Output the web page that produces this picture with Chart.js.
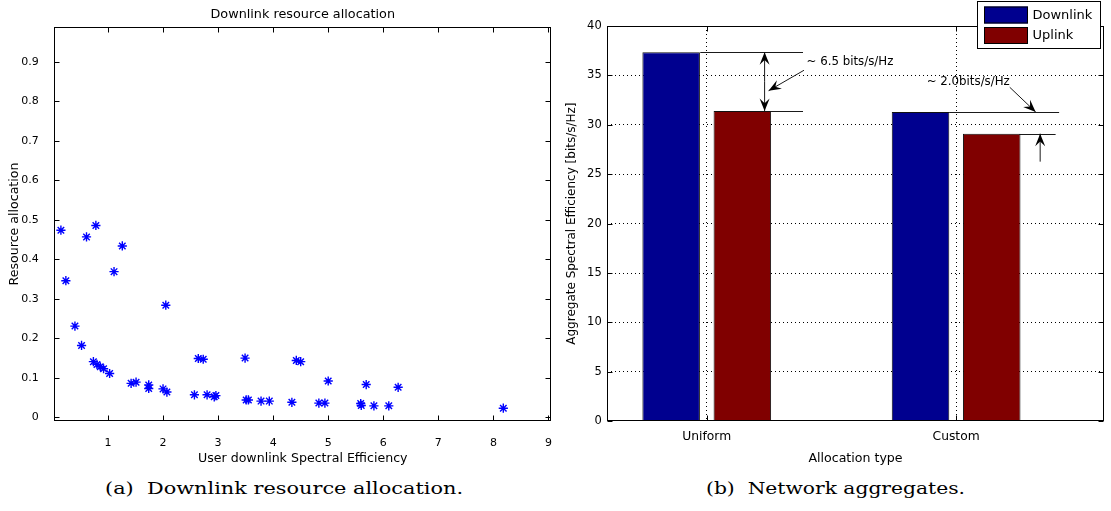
<!DOCTYPE html>
<html>
<head>
<meta charset="utf-8">
<script src="https://cdn.jsdelivr.net/npm/chart.js@4/dist/chart.umd.min.js"></script>
<style>
  body { margin: 0; background: #fff; width: 1111px; height: 511px; position: relative; overflow: hidden; }
  #leftChart { position: absolute; left: 0; top: 0; }
  #rightChart { position: absolute; left: 560px; top: 0; }
  .caption { position: absolute; top: 478px; font-family: "DejaVu Serif", serif; font-size: 17px; white-space: pre;
             color: #000; transform-origin: 0 50%; }
</style>
</head>
<body>
<canvas id="leftChart" width="560" height="470"></canvas>
<canvas id="rightChart" width="551" height="470"></canvas>
<div class="caption" id="capA" data-w="358" style="left:105px">(a)  Downlink resource allocation.</div>
<div class="caption" id="capB" data-w="259" style="left:706px">(b)  Network aggregates.</div>
<script>
// ---- data: downlink resource allocation (scatter) ----
const spectralEff = [0.145, 0.235, 0.40, 0.52, 0.61, 0.78, 0.735, 0.80, 0.86, 0.92, 1.03, 1.11, 1.26,
  1.42, 1.51, 1.74, 1.74, 2.00, 2.07, 2.05, 2.57, 2.64, 2.73, 2.80, 2.93, 2.96, 3.49, 3.51, 3.55,
  3.78, 3.93, 4.34, 4.42, 4.50, 4.83, 4.94, 5.00, 5.59, 5.60, 5.69, 5.83, 6.10, 6.27, 8.18];
const resourceAlloc = [0.474, 0.346, 0.231, 0.182, 0.457, 0.486, 0.141, 0.134, 0.128, 0.123, 0.111, 0.369, 0.434,
  0.086, 0.089, 0.082, 0.073, 0.072, 0.064, 0.284, 0.057, 0.149, 0.147, 0.057, 0.052, 0.055, 0.150, 0.044, 0.044,
  0.041, 0.041, 0.038, 0.144, 0.141, 0.036, 0.036, 0.092, 0.035, 0.030, 0.083, 0.029, 0.029, 0.076, 0.023];
const seTicks = [1, 2, 3, 4, 5, 6, 7, 8, 9];
const allocTicks = [0, 0.1, 0.2, 0.3, 0.4, 0.5, 0.6, 0.7, 0.8, 0.9];

// ---- data: network aggregates (bars) ----
const allocTypes = ['Uniform', 'Custom'];
const downlinkAgg = [37.35, 31.3];
const uplinkAgg = [31.4, 29.1];
const aggTicks = [0, 5, 10, 15, 20, 25, 30, 35, 40];

Chart.defaults.font.family = '"DejaVu Sans", sans-serif';
Chart.defaults.font.size = 11;
Chart.defaults.color = '#000';
Chart.defaults.animation = false;

const setTicks = (vals) => (scale) => { scale.ticks = vals.map(v => ({ value: v })); };

// box round the plot plus matlab style inward ticks
const framePlugin = {
  id: 'frame',
  afterDraw(chart) {
    const { ctx, chartArea: a, scales } = chart;
    const L = Math.round(a.left) + 0.5, R = Math.round(a.right) - 0.5;
    const T = Math.round(a.top) + 0.5, B = Math.round(a.bottom) - 0.5;
    ctx.save();
    ctx.strokeStyle = '#000';
    ctx.lineWidth = 1;
    ctx.strokeRect(L, T, R - L, B - T);
    ctx.beginPath();
    for (const t of scales.x.ticks) {
      const px = Math.round(scales.x.getPixelForValue(t.value)) + 0.5;
      ctx.moveTo(px, B); ctx.lineTo(px, B - 5);
      ctx.moveTo(px, T); ctx.lineTo(px, T + 5);
    }
    for (const t of scales.y.ticks) {
      const py = Math.round(scales.y.getPixelForValue(t.value)) + 0.5;
      ctx.moveTo(L, py); ctx.lineTo(L + 5, py);
      ctx.moveTo(R, py); ctx.lineTo(R - 5, py);
    }
    ctx.stroke();
    ctx.restore();
  }
};

new Chart(document.getElementById('leftChart'), {
  type: 'scatter',
  data: {
    datasets: [{
      label: 'Resource allocation',
      data: spectralEff.map((x, i) => ({ x: x, y: resourceAlloc[i] })),
      pointStyle: 'star',
      pointRadius: 4.6,
      borderColor: '#0000ff',
      backgroundColor: '#0000ff',
      borderWidth: 1.4
    }]
  },
  options: {
    responsive: false,
    layout: { padding: { right: 6 } },
    plugins: {
      legend: { display: false },
      tooltip: { enabled: false },
      title: {
        display: true,
        text: 'Downlink resource allocation',
        fullSize: false,
        font: { weight: 'normal', size: 12.8 },
        color: '#000',
        padding: { top: 6.7, bottom: 5.2 }
      }
    },
    scales: {
      x: {
        type: 'linear', min: 0.025, max: 9.05,
        afterBuildTicks: setTicks(seTicks),
        afterFit: (s) => { s.height = 49.3; },
        grid: { display: false },
        border: { display: false },
        ticks: { padding: 8, maxRotation: 0 },
        title: { display: true, text: 'User downlink Spectral Efficiency', font: { size: 12.6 }, padding: { top: 5 } }
      },
      y: {
        type: 'linear', min: -0.0086, max: 0.988,
        afterBuildTicks: setTicks(allocTicks),
        afterFit: (s) => { s.width = 54.3; },
        grid: { display: false },
        border: { display: false },
        ticks: { padding: 7.5, callback: (v) => String(Number(v.toFixed(1))) },
        title: { display: true, text: 'Resource allocation', font: { size: 12.6 }, padding: { top: 7.5 } }
      }
    }
  },
  plugins: [framePlugin]
});

// gap annotations, in data units
const annotLines = [
  [0.974, downlinkAgg[0], 1.386, downlinkAgg[0]],
  [1.255, uplinkAgg[0], 1.386, uplinkAgg[0]],
  [1.972, downlinkAgg[1], 2.413, downlinkAgg[1]],
  [2.253, uplinkAgg[1], 2.399, uplinkAgg[1]]
];
const annotArrows = [
  { from: [1.232, 34.4], to: [1.232, downlinkAgg[0]] },
  { from: [1.232, 34.4], to: [1.232, uplinkAgg[0]] },
  { from: [1.39, 35.52], to: [1.248, 33.45] },
  { from: [2.215, 33.8], to: [2.319, downlinkAgg[1]] },
  { from: [2.337, 26.27], to: [2.337, uplinkAgg[1]] }
];
const annotTexts = [
  { x: 1.40, y: 36.36, text: '~ 6.5 bits/s/Hz' },
  { x: 1.882, y: 34.36, text: '~ 2.0bits/s/Hz' }
];

function arrowHead(ctx, x1, y1, x2, y2) {
  const dx = x2 - x1, dy = y2 - y1;
  const d = Math.hypot(dx, dy) || 1;
  const ux = dx / d, uy = dy / d, nx = -uy, ny = ux;
  const len = 12.5, w = 5;
  const bx = x2 - ux * len, by = y2 - uy * len;
  ctx.beginPath();
  ctx.moveTo(x2, y2);
  ctx.lineTo(bx + nx * w, by + ny * w);
  ctx.lineTo(x2 - ux * len * 0.62, y2 - uy * len * 0.62);
  ctx.lineTo(bx - nx * w, by - ny * w);
  ctx.closePath();
  ctx.fill();
}

const annotPlugin = {
  id: 'annot',
  afterDatasetsDraw(chart) {
    const { ctx, scales: { x, y } } = chart;
    ctx.save();
    ctx.strokeStyle = '#1a1a1a';
    ctx.fillStyle = '#000';
    ctx.lineWidth = 1;
    for (const [x1, y1, x2, y2] of annotLines) {
      const py = Math.round(y.getPixelForValue(y1)) + 0.5;
      ctx.beginPath();
      ctx.moveTo(x.getPixelForValue(x1), py);
      ctx.lineTo(x.getPixelForValue(x2), py);
      ctx.stroke();
    }
    for (const a of annotArrows) {
      const x1 = x.getPixelForValue(a.from[0]), y1 = y.getPixelForValue(a.from[1]);
      const x2 = x.getPixelForValue(a.to[0]), y2 = y.getPixelForValue(a.to[1]);
      ctx.beginPath();
      ctx.moveTo(x1, y1);
      ctx.lineTo(x2, y2);
      ctx.stroke();
      arrowHead(ctx, x1, y1, x2, y2);
    }
    ctx.font = '11.8px "DejaVu Sans", sans-serif';
    ctx.textBaseline = 'middle';
    ctx.textAlign = 'left';
    for (const t of annotTexts) {
      ctx.fillText(t.text, x.getPixelForValue(t.x), y.getPixelForValue(t.y));
    }
    ctx.restore();
  },
  afterDraw(chart) {
    // legend box, top right, partly over the axes box
    const { ctx } = chart;
    ctx.save();
    ctx.fillStyle = '#fff';
    ctx.fillRect(417, 1, 124, 48);
    ctx.strokeStyle = '#000';
    ctx.lineWidth = 1;
    ctx.strokeRect(417.5, 1.5, 123, 47);
    ctx.font = '13px "DejaVu Sans", sans-serif';
    ctx.textBaseline = 'middle';
    chart.data.datasets.forEach((ds, i) => {
      const top = 6.5 + i * 20.5;
      ctx.fillStyle = ds.backgroundColor;
      ctx.fillRect(424, top, 44, 17);
      ctx.strokeRect(424.5, top + 0.5, 43, 16);
      ctx.fillStyle = '#000';
      ctx.fillText(ds.label, 472.5, top + 9);
    });
    ctx.restore();
  }
};

const dotted = { display: false, dash: [1, 3] };

new Chart(document.getElementById('rightChart'), {
  type: 'bar',
  data: {
    datasets: [
      {
        label: 'Downlink',
        data: downlinkAgg.map((v, i) => ({ x: i + 1, y: v })),
        backgroundColor: '#00008f',
        borderColor: '#111',
        borderWidth: 1,
        categoryPercentage: 0.571,
        barPercentage: 0.808
      },
      {
        label: 'Uplink',
        data: uplinkAgg.map((v, i) => ({ x: i + 1, y: v })),
        backgroundColor: '#800000',
        borderColor: '#111',
        borderWidth: 1,
        categoryPercentage: 0.571,
        barPercentage: 0.808
      }
    ]
  },
  options: {
    responsive: false,
    layout: { padding: { top: 26, right: 7 } },
    plugins: { legend: { display: false }, tooltip: { enabled: false } },
    scales: {
      x: {
        type: 'linear', min: 0.6, max: 2.593, offset: false,
        afterBuildTicks: setTicks([1, 2]),
        afterFit: (s) => { s.height = 48.8; },
        grid: { color: '#000', offset: false, drawTicks: false, lineWidth: 1 },
        border: dotted,
        ticks: { padding: 8, maxRotation: 0, font: { size: 12.3 }, callback: (v) => allocTypes[v - 1] },
        title: { display: true, text: 'Allocation type', font: { size: 12.6 }, padding: { top: 2.5 } }
      },
      y: {
        type: 'linear', min: 0, max: 40,
        afterBuildTicks: setTicks(aggTicks),
        afterFit: (s) => { s.width = 47; },
        grid: {
          color: (c) => (c.tick && (c.tick.value === 0 || c.tick.value === 40)) ? 'rgba(0,0,0,0)' : '#000',
          drawTicks: false, lineWidth: 1
        },
        border: dotted,
        ticks: { padding: 5.3, font: { size: 11.5 } },
        title: { display: true, text: 'Aggregate Spectral Efficiency [bits/s/Hz]', font: { size: 12 }, padding: { top: 4.2 } }
      }
    }
  },
  plugins: [framePlugin, annotPlugin]
});

// stretch the serif captions to the width they have in the figure
for (const el of document.querySelectorAll('.caption')) {
  const target = Number(el.dataset.w);
  const w = el.getBoundingClientRect().width;
  if (w > 0) el.style.transform = 'scaleX(' + (target / w).toFixed(3) + ')';
}
</script>
</body>
</html>
